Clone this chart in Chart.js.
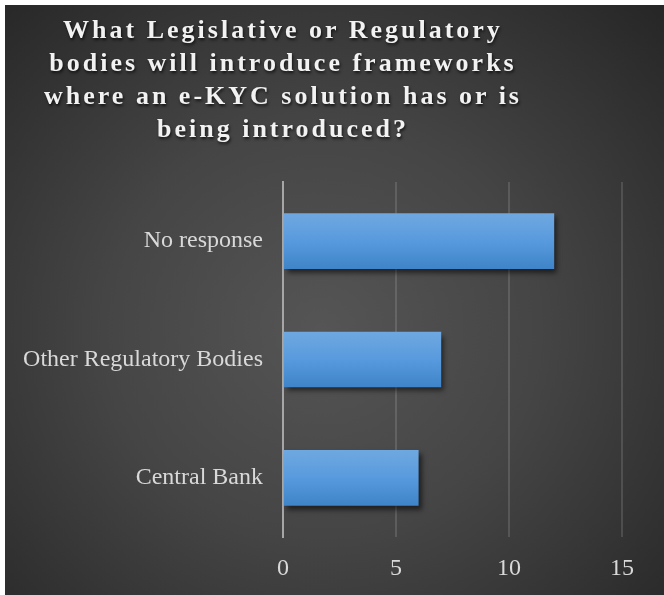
<!DOCTYPE html>
<html>
<head>
<meta charset="utf-8">
<script src="https://cdn.jsdelivr.net/npm/chart.js@4"></script>
<style>
  html, body { margin: 0; padding: 0; background: #fff; }
  #wrap {
    position: absolute; left: 5px; top: 5px; width: 659px; height: 590px;
    background: radial-gradient(ellipse at 48% 55%, #555555 0%, #454545 45%, #262626 100%);
  }
  #title {
    position: absolute; left: -5px; top: 8px; width: 566px; text-align: center;
    font-family: "Liberation Serif", "Times New Roman", serif; font-weight: bold;
    font-size: 26px; line-height: 33px; letter-spacing: 3px; color: #f2f2f2;
    text-shadow: 1px 2px 3px rgba(0,0,0,0.7);
  }
  canvas { position: absolute; left: 0; top: 0; }
</style>
</head>
<body>
<div id="wrap">
  <canvas id="chart" width="659" height="590"></canvas>
  <div id="title">What Legislative or Regulatory<br>bodies will introduce frameworks<br>where an e-KYC solution has or is<br>being introduced?</div>
</div>
<script>
const categories = ['No response', 'Other Regulatory Bodies', 'Central Bank'];
const responses = [12, 7, 6];
const xTicks = [0, 5, 10, 15];
const barPct = 0.47;

// drop shadow under the bars
const barShadow = {
  id: 'barShadow',
  beforeDatasetsDraw(chart) {
    const ctx = chart.ctx;
    ctx.save();
    ctx.shadowColor = 'rgba(0,0,0,0.55)';
    ctx.shadowBlur = 5;
    ctx.shadowOffsetX = 3;
    ctx.shadowOffsetY = 4;
  },
  afterDatasetsDraw(chart) {
    chart.ctx.restore();
  }
};

// vertical gradient per bar, built once the scales are laid out
const barGradient = {
  id: 'barGradient',
  afterLayout(chart) {
    const y = chart.scales.y;
    const half = (y.height / categories.length) * barPct / 2;
    chart.data.datasets[0].backgroundColor = categories.map((c, i) => {
      const mid = y.getPixelForValue(i);
      const g = chart.ctx.createLinearGradient(0, mid - half, 0, mid + half);
      g.addColorStop(0, '#6fa8e0');
      g.addColorStop(0.5, '#589ade');
      g.addColorStop(1, '#3f84c8');
      return g;
    });
  }
};

const labelFont = { family: '"Liberation Serif", serif', size: 24 };

new Chart(document.getElementById('chart'), {
  type: 'bar',
  data: {
    labels: categories,
    datasets: [{
      data: responses,
      backgroundColor: '#5597d9',
      borderWidth: 0,
      barPercentage: barPct,
      categoryPercentage: 1
    }]
  },
  options: {
    indexAxis: 'y',
    responsive: false,
    animation: false,
    layout: { padding: { top: 177, right: 42, bottom: 0, left: 0 } },
    plugins: { legend: { display: false }, title: { display: false }, tooltip: { enabled: false } },
    scales: {
      x: {
        min: 0, max: 15,
        afterBuildTicks: scale => { scale.ticks = xTicks.map(v => ({ value: v })); },
        afterFit: scale => { scale.height = 58; },
        grid: { color: 'rgba(255,255,255,0.13)', lineWidth: 2, drawTicks: false },
        border: { display: false },
        ticks: { color: '#d9d9d9', padding: 17, font: labelFont }
      },
      y: {
        afterFit: scale => { scale.width = 278; },
        grid: { display: false, drawTicks: false },
        border: { display: true, color: '#a6a6a6', width: 2 },
        ticks: { color: '#d9d9d9', padding: 20, font: labelFont }
      }
    }
  },
  plugins: [barGradient, barShadow]
});
</script>
</body>
</html>
